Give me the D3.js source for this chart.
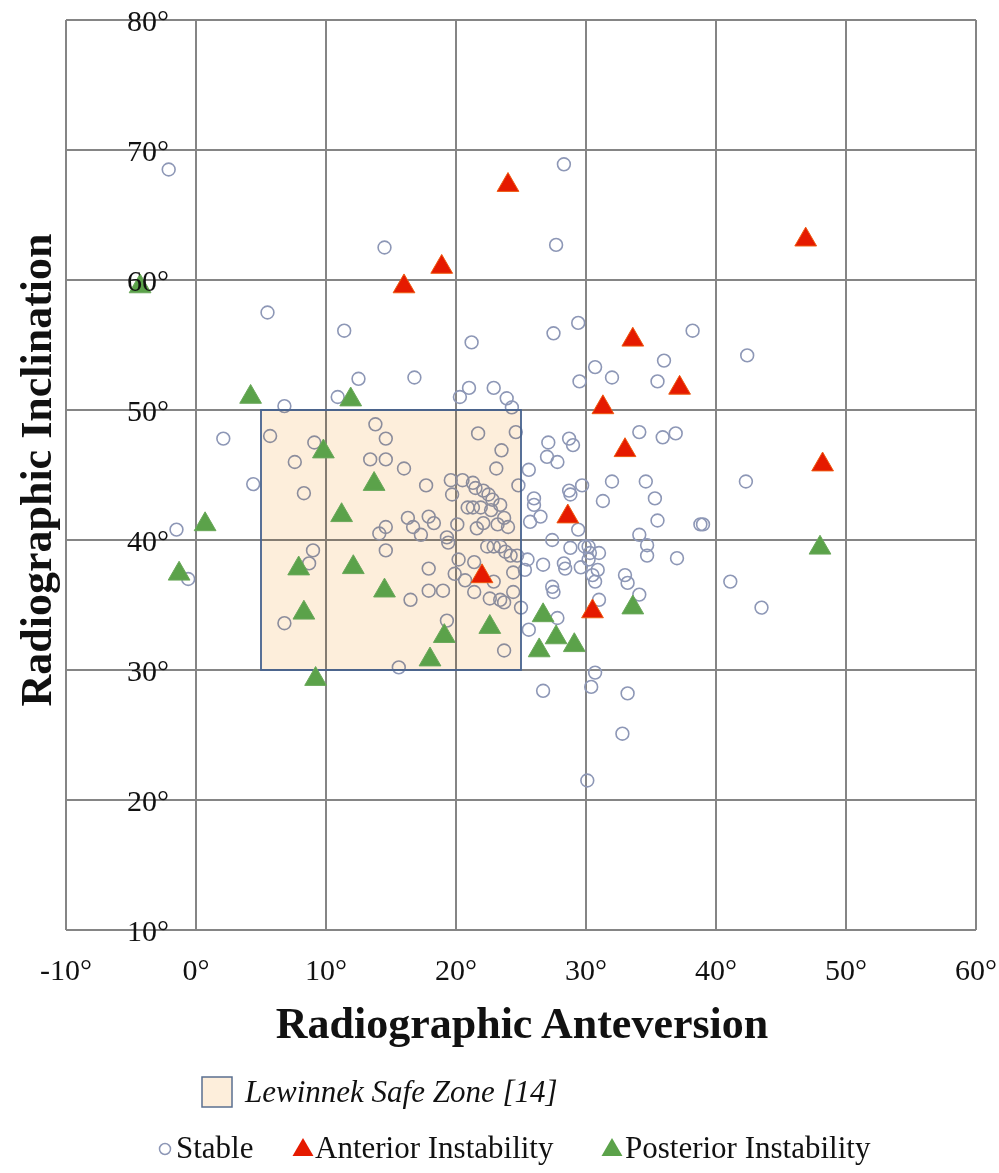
<!DOCTYPE html>
<html>
<head>
<meta charset="utf-8">
<script src="https://cdn.jsdelivr.net/npm/d3@7"></script>
<style>
  body { margin: 0; background: #fff; }
  svg text { font-family: "Liberation Serif", "Times New Roman", serif; }
</style>
</head>
<body>
<div id="chart-area"></div>
<script>
// Axis ticks
var xTicks = [-10, 0, 10, 20, 30, 40, 50, 60];
var yTicks = [10, 20, 30, 40, 50, 60, 70, 80];

// Lewinnek safe zone [anteversion min, max, inclination min, max]
var safeZone = [5, 25, 30, 50];

// Stable hips [anteversion, inclination]
var stable = [
	[-2.1, 68.5], [28.3, 68.9], [27.7, 62.7], [14.5, 62.5], [5.5, 57.5], [11.4, 56.1],
	[21.2, 55.2], [27.5, 55.9], [29.4, 56.7], [12.5, 52.4], [16.8, 52.5], [10.9, 51.0],
	[6.8, 50.3], [21.0, 51.7], [20.3, 51.0], [22.9, 51.7], [23.9, 50.9], [24.3, 50.2],
	[30.7, 53.3], [32.0, 52.5], [29.5, 52.2], [36.0, 53.8], [35.5, 52.2], [38.2, 56.1],
	[42.4, 54.2], [34.1, 48.3], [35.9, 47.9], [36.9, 48.2], [32.0, 44.5], [34.6, 44.5],
	[31.3, 43.0], [35.3, 43.2], [35.5, 41.5], [38.8, 41.2], [34.1, 40.4], [34.7, 39.6],
	[34.7, 38.8], [37.0, 38.6], [33.0, 37.3], [33.2, 36.7], [34.1, 35.8], [31.0, 35.4],
	[30.7, 29.8], [30.4, 28.7], [33.2, 28.2], [26.7, 28.4], [32.8, 25.1], [30.1, 21.5],
	[42.3, 44.5], [39.0, 41.2], [41.1, 36.8], [43.5, 34.8],
	[2.1, 47.8], [4.4, 44.3], [-1.5, 40.8], [-0.6, 37.0],
	[5.7, 48.0], [9.1, 47.5], [7.6, 46.0], [8.3, 43.6], [9.0, 39.2], [8.7, 38.2],
	[6.8, 33.6], [13.8, 48.9], [14.6, 47.8], [13.4, 46.2], [14.6, 46.2], [16.0, 45.5],
	[17.7, 44.2], [19.6, 44.6], [16.3, 41.7], [17.9, 41.8], [18.3, 41.3], [16.7, 41.0],
	[17.3, 40.4], [14.6, 41.0], [14.1, 40.5], [19.3, 40.2], [14.6, 39.2], [17.9, 37.8],
	[17.9, 36.1], [19.0, 36.1], [16.5, 35.4], [19.3, 33.8], [15.6, 30.2],
	[21.7, 48.2], [24.6, 48.3], [23.5, 46.9], [23.1, 45.5], [20.5, 44.6], [21.3, 44.4],
	[21.5, 44.0], [22.1, 43.8], [22.5, 43.5], [22.8, 43.1], [23.4, 42.7], [20.9, 42.5],
	[21.3, 42.5], [21.9, 42.5], [22.7, 42.3], [19.7, 43.5], [23.7, 41.7], [24.0, 41.0],
	[22.1, 41.3], [21.6, 40.9], [20.1, 41.2], [23.2, 41.2], [19.4, 39.8], [22.4, 39.5],
	[22.9, 39.5], [23.4, 39.5], [23.8, 39.1], [24.2, 38.8], [24.7, 38.8], [20.2, 38.5],
	[21.4, 38.3], [19.9, 37.4], [20.7, 36.9], [22.9, 36.8], [24.4, 37.5], [24.4, 36.0],
	[21.4, 36.0], [22.6, 35.5], [23.4, 35.4], [23.7, 35.2], [23.7, 31.5], [25.0, 34.8],
	[24.8, 44.2],
	[27.1, 47.5], [28.7, 47.8], [29.0, 47.3], [27.0, 46.4], [27.8, 46.0], [25.6, 45.4],
	[26.0, 43.2], [26.0, 42.7], [26.5, 41.8], [25.7, 41.4], [28.7, 43.8], [28.8, 43.5],
	[29.7, 44.2], [29.4, 40.8], [27.4, 40.0], [28.8, 39.4], [30.2, 39.5], [25.5, 38.5],
	[26.7, 38.1], [28.3, 38.2], [28.4, 37.8], [25.3, 37.7], [27.4, 36.4], [27.5, 36.0],
	[29.6, 37.9], [30.5, 37.3], [30.9, 37.7], [30.7, 36.8], [27.8, 34.0], [25.6, 33.1],
	[29.9, 39.5], [30.3, 39.0], [31.0, 39.0], [30.2, 38.5]
];

// Anterior instability
var anterior = [
	[24.0, 67.3], [18.9, 61.0], [16.0, 59.5], [46.9, 63.1], [33.6, 55.4], [37.2, 51.7],
	[31.3, 50.2], [33.0, 46.9], [48.2, 45.8], [28.6, 41.8], [22.0, 37.2], [30.5, 34.5]
];

// Posterior instability
var posterior = [
	[-4.3, 59.5], [4.2, 51.0], [11.9, 50.8], [9.8, 46.8], [13.7, 44.3], [11.2, 41.9],
	[0.7, 41.2], [-1.3, 37.4], [7.9, 37.8], [12.1, 37.9], [14.5, 36.1], [8.3, 34.4],
	[19.1, 32.6], [22.6, 33.3], [18.0, 30.8], [9.2, 29.3], [26.7, 34.2], [27.7, 32.5],
	[26.4, 31.5], [29.1, 31.9], [33.6, 34.8], [48.0, 39.4]
];

// Canvas
var canvasWidth = 999;
var canvasHeight = 1173;

var svg = d3.select("#chart-area")
	.append("svg")
	.attr("width", canvasWidth)
	.attr("height", canvasHeight);

// Scales
var x = d3.scaleLinear().domain([-10, 60]).range([66, 976]);
var y = d3.scaleLinear().domain([10, 80]).range([930, 20]);

var gridColor = "#858585";

// Grid
svg.append("g").selectAll("line.v")
	.data(xTicks)
	.enter().append("line")
	.attr("x1", function(d){ return x(d); })
	.attr("x2", function(d){ return x(d); })
	.attr("y1", y(80))
	.attr("y2", y(10))
	.attr("stroke", gridColor)
	.attr("stroke-width", 2);

svg.append("g").selectAll("line.h")
	.data(yTicks)
	.enter().append("line")
	.attr("x1", x(-10))
	.attr("x2", x(60))
	.attr("y1", function(d){ return y(d); })
	.attr("y2", function(d){ return y(d); })
	.attr("stroke", gridColor)
	.attr("stroke-width", 2);

// Stable points
svg.append("g").selectAll("circle")
	.data(stable)
	.enter().append("circle")
	.attr("cx", function(d){ return x(d[0]); })
	.attr("cy", function(d){ return y(d[1]); })
	.attr("r", 6.4)
	.attr("fill", "none")
	.attr("stroke", "#8d97b6")
	.attr("stroke-width", 1.6);

// Safe zone (multiplied over the grid and circles)
svg.append("rect")
	.attr("x", x(safeZone[0]))
	.attr("y", y(safeZone[3]))
	.attr("width", x(safeZone[1]) - x(safeZone[0]))
	.attr("height", y(safeZone[2]) - y(safeZone[3]))
	.attr("fill", "#fdeedb")
	.style("mix-blend-mode", "multiply");

svg.append("rect")
	.attr("x", x(safeZone[0]))
	.attr("y", y(safeZone[3]))
	.attr("width", x(safeZone[1]) - x(safeZone[0]))
	.attr("height", y(safeZone[2]) - y(safeZone[3]))
	.attr("fill", "none")
	.attr("stroke", "#46628e")
	.attr("stroke-width", 1.8);

// Triangles
var tri = d3.symbol().type(d3.symbolTriangle).size(205);

svg.append("g").selectAll("path")
	.data(posterior)
	.enter().append("path")
	.attr("d", tri)
	.attr("transform", function(d){ return "translate(" + x(d[0]) + "," + y(d[1]) + ")"; })
	.attr("fill", "#5ba24a")
	.attr("stroke", "#6aa85a")
	.attr("stroke-width", 1);

svg.append("g").selectAll("path")
	.data(anterior)
	.enter().append("path")
	.attr("d", tri)
	.attr("transform", function(d){ return "translate(" + x(d[0]) + "," + y(d[1]) + ")"; })
	.attr("fill", "#e51a00")
	.attr("stroke", "#ee5a10")
	.attr("stroke-width", 1);

// Tick labels (y labels sit inside the plot, left of the 0° line)
svg.append("g").selectAll("text")
	.data(yTicks)
	.enter().append("text")
	.attr("x", 169)
	.attr("y", function(d){ return y(d); })
	.attr("dy", "0.35em")
	.attr("text-anchor", "end")
	.attr("font-size", 30)
	.attr("fill", "#111")
	.text(function(d){ return d + "°"; });

svg.append("g").selectAll("text")
	.data(xTicks)
	.enter().append("text")
	.attr("x", function(d){ return x(d); })
	.attr("y", 980)
	.attr("text-anchor", "middle")
	.attr("font-size", 30)
	.attr("fill", "#111")
	.text(function(d){ return d + "°"; });

// Axis titles
svg.append("text")
	.attr("x", 522)
	.attr("y", 1038)
	.attr("text-anchor", "middle")
	.attr("font-size", 44)
	.attr("font-weight", "bold")
	.attr("fill", "#111")
	.text("Radiographic Anteversion");

svg.append("text")
	.attr("transform", "translate(51,470) rotate(-90)")
	.attr("text-anchor", "middle")
	.attr("font-size", 44)
	.attr("font-weight", "bold")
	.attr("fill", "#111")
	.text("Radiographic Inclination");

// Legend
svg.append("rect")
	.attr("x", 202)
	.attr("y", 1077)
	.attr("width", 30)
	.attr("height", 30)
	.attr("fill", "#fdeedb")
	.attr("stroke", "#5a6f90")
	.attr("stroke-width", 1.5);

svg.append("text")
	.attr("x", 245)
	.attr("y", 1102)
	.attr("font-size", 31)
	.attr("font-style", "italic")
	.attr("fill", "#111")
	.text("Lewinnek Safe Zone [14]");

svg.append("circle")
	.attr("cx", 165)
	.attr("cy", 1149)
	.attr("r", 5.5)
	.attr("fill", "none")
	.attr("stroke", "#8d97b6")
	.attr("stroke-width", 1.5);

svg.append("text")
	.attr("x", 176)
	.attr("y", 1158)
	.attr("font-size", 31)
	.attr("fill", "#111")
	.text("Stable");

svg.append("path")
	.attr("d", d3.symbol().type(d3.symbolTriangle).size(190))
	.attr("transform", "translate(303,1150)")
	.attr("fill", "#e51a00");

svg.append("text")
	.attr("x", 315)
	.attr("y", 1158)
	.attr("font-size", 31)
	.attr("fill", "#111")
	.text("Anterior Instability");

svg.append("path")
	.attr("d", d3.symbol().type(d3.symbolTriangle).size(190))
	.attr("transform", "translate(612,1150)")
	.attr("fill", "#5ba24a");

svg.append("text")
	.attr("x", 625)
	.attr("y", 1158)
	.attr("font-size", 31)
	.attr("fill", "#111")
	.text("Posterior Instability");
</script>
</body>
</html>
